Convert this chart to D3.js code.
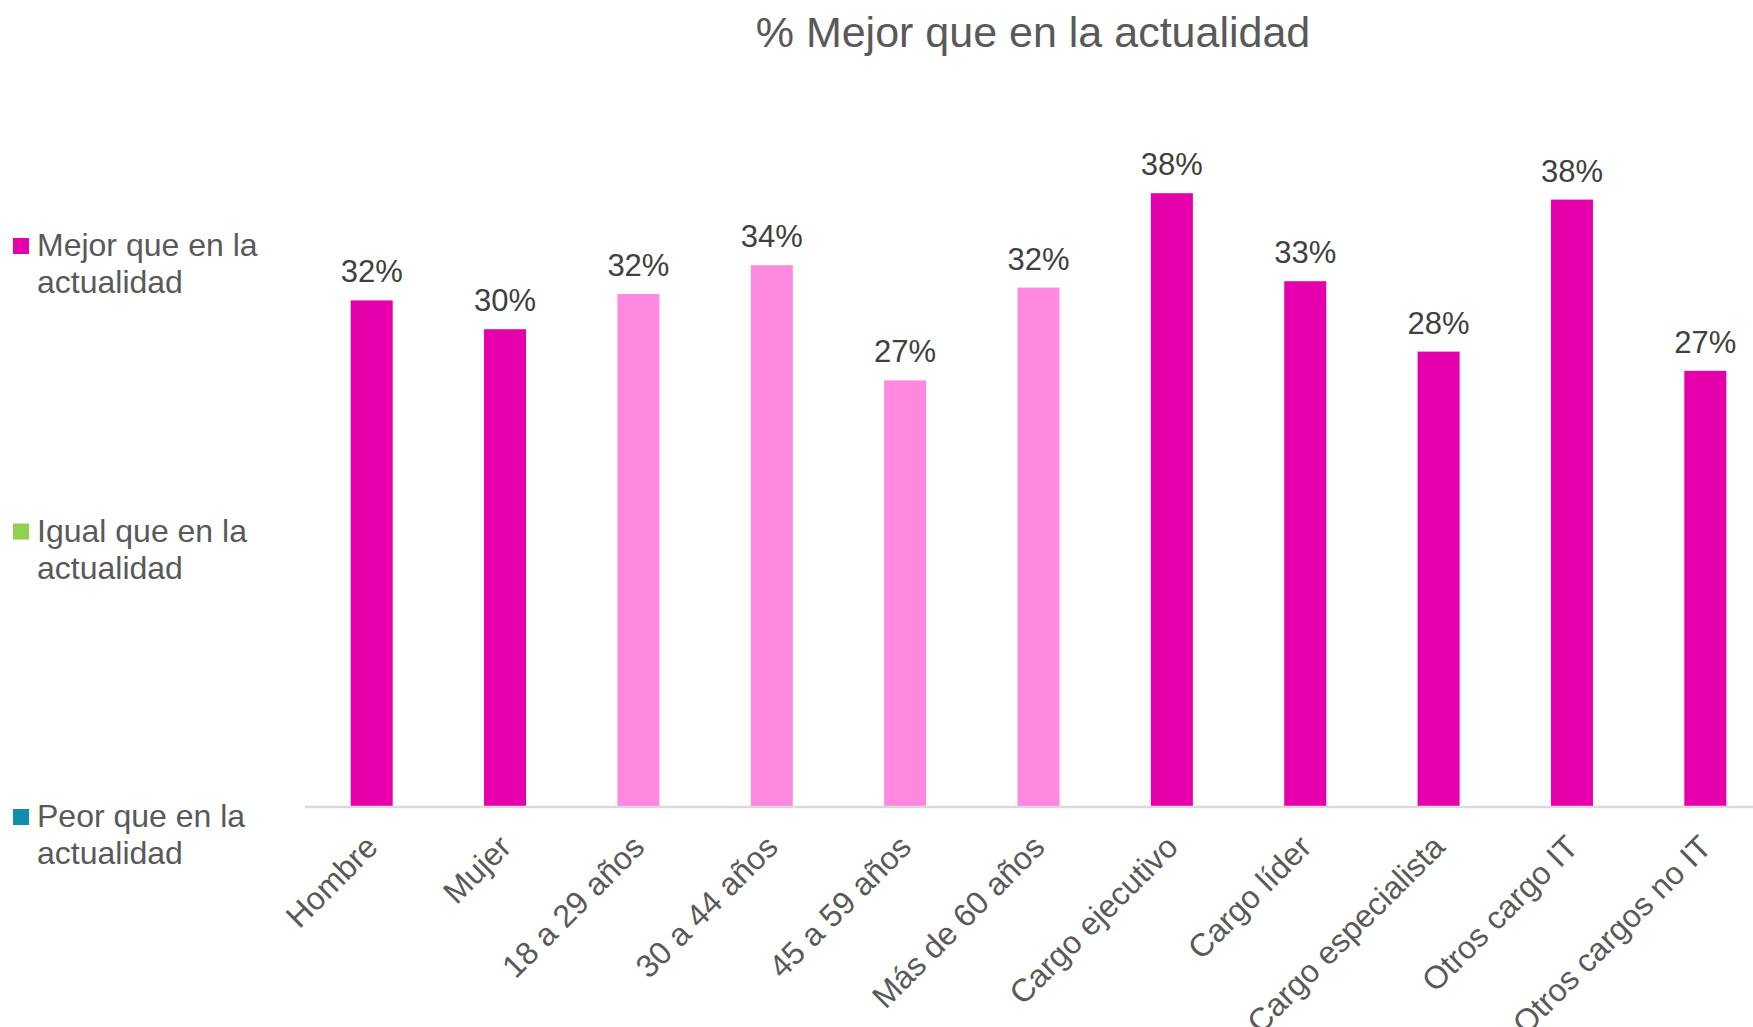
<!DOCTYPE html>
<html>
<head>
<meta charset="utf-8">
<script src="https://cdn.jsdelivr.net/npm/d3@7"></script>
<style>
  html, body { margin: 0; padding: 0; background: #fff; }
  svg { display: block; font-family: "Liberation Sans", Arial, sans-serif; }
</style>
</head>
<body>
<svg id="chart" width="1753" height="1027"></svg>
<script>
const categories = ["Hombre", "Mujer", "18 a 29 años", "30 a 44 años", "45 a 59 años", "Más de 60 años",
  "Cargo ejecutivo", "Cargo líder", "Cargo especialista", "Otros cargo IT", "Otros cargos no IT"];
const groups = ["sexo", "sexo", "edad", "edad", "edad", "edad", "cargo", "cargo", "cargo", "cargo", "cargo"];
const mejor = [0.316, 0.298, 0.320, 0.338, 0.266, 0.324, 0.383, 0.328, 0.284, 0.379, 0.272];
const legendItems = [
  { name: "Mejor que en la|actualidad", color: "#E600AC" },
  { name: "Igual que en la|actualidad", color: "#92D050" },
  { name: "Peor que en la|actualidad", color: "#0E8FB0" }
];
const title = "% Mejor que en la actualidad";

const width = 1753, height = 1027;
const svg = d3.select("#chart");

const axisY = 806;
const x = d3.scaleBand()
  .domain(categories)
  .range([305, 1772])
  .paddingInner(0.685)
  .paddingOuter(0.3425);
const y = d3.scaleLinear().domain([0, 0.40]).range([axisY, axisY - 640]);

const groupColor = d3.scaleOrdinal()
  .domain(["sexo", "edad", "cargo"])
  .range(["#E600AC", "#FF88E0", "#E600AC"]);

// título
svg.append("text")
  .attr("x", 1033)
  .attr("y", 47)
  .attr("text-anchor", "middle")
  .attr("fill", "#595959")
  .style("font-size", "43px")
  .text(title);

// barras
svg.append("g")
  .selectAll("rect")
  .data(categories)
  .join("rect")
  .attr("x", d => x(d))
  .attr("y", (d, i) => y(mejor[i]))
  .attr("width", x.bandwidth())
  .attr("height", (d, i) => axisY - y(mejor[i]))
  .attr("fill", (d, i) => groupColor(groups[i]));

// eje x
svg.append("line")
  .attr("x1", x.range()[0]).attr("x2", x.range()[1])
  .attr("y1", axisY + 1).attr("y2", axisY + 1)
  .attr("stroke", "#D9D9D9")
  .attr("stroke-width", 2.5);

// etiquetas de valor
const fmt = d3.format(".0%");
svg.append("g")
  .selectAll("text")
  .data(categories)
  .join("text")
  .attr("x", d => x(d) + x.bandwidth() / 2)
  .attr("y", (d, i) => y(mejor[i]) - 18)
  .attr("text-anchor", "middle")
  .attr("fill", "#404040")
  .style("font-size", "31px")
  .text((d, i) => fmt(mejor[i]));

// etiquetas de categoría
svg.append("g")
  .selectAll("text")
  .data(categories)
  .join("text")
  .attr("text-anchor", "end")
  .attr("transform", d => `translate(${x(d) + x.bandwidth() / 2 + 8},${axisY + 43}) rotate(-45)`)
  .attr("fill", "#595959")
  .style("font-size", "32px")
  .text(d => d);

// leyenda
const legend = svg.append("g")
  .selectAll("g")
  .data(legendItems)
  .join("g")
  .attr("transform", (d, i) => `translate(0,${i * 285.5})`);

legend.append("rect")
  .attr("x", 13).attr("y", 238)
  .attr("width", 16).attr("height", 16)
  .attr("fill", d => d.color);

legend.append("text")
  .attr("fill", "#595959")
  .style("font-size", "32px")
  .selectAll("tspan")
  .data(d => d.name.split("|"))
  .join("tspan")
  .attr("x", 37)
  .attr("y", (d, i) => 256 + i * 37)
  .text(d => d);
</script>
</body>
</html>
